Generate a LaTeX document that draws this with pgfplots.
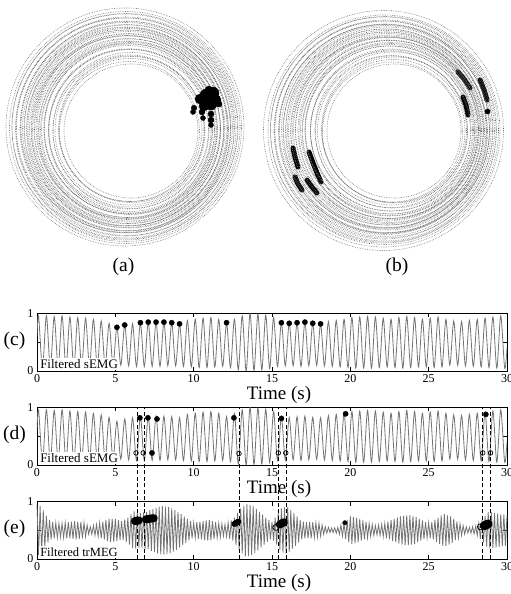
\documentclass[border=0pt]{standalone}
\usepackage{fontspec}
\setmainfont{Liberation Serif}
\usepackage{pgfplots}
\pgfplotsset{compat=1.18}
\usepackage{pgfplotstable}

\pgfplotstableread{
cx cy r
131 131 67
129.5 131.5 70
130.5 130 71.5
131.5 129.5 73
129.5 130.5 74.5
129 131 76
131 130.5 78
128.5 129 80
130 130.5 81
130.5 131 82
128 129.5 84
129.5 129 85
130 128.5 86
127.5 130.5 87
129.5 129.5 88
128 130 89
127 128.5 90
129.5 130 91
128 127.5 92
127.5 129 93
126.5 129.5 94
129 128.5 95
127.5 130 96
128 128.5 97
126 128 98
128.5 129 99
127 127.5 100
127.5 129.5 101
126 129 102
127.5 128 103
126.5 128.5 104
126 127.5 105
126.5 127 106
127 128.5 107
125.5 127 109
126 128 110
126.5 128 111
125 127 113
126 127.5 114
125.5 127.5 116
125 127 119
}\ringsA

\pgfplotstableread{
cx cy r
394 131 67
392.5 132 70
393.5 131 71.5
394.5 130 73
392 130.5 74.5
391.5 131.5 76
393 130 78
390.5 131 80
391.5 130 81
392.5 132 82
389.5 130 84
390 131 85
391 129.5 86
389 131.5 87
390.5 130.5 88
389.5 129.5 89
388 130 90
390 131.5 91
387.5 129 92
388.5 130.5 93
386.5 131 94
388.5 130 95
387 132 96
387.5 130.5 97
385.5 130 98
387.5 131 99
386 129 100
386.5 131.5 101
385 131 102
386.5 130 103
385.5 129.5 104
384.5 129.5 105
385 130.5 106
385.5 131 107
384 130 109
384.5 131 110
385 131 111
383.5 130 113
384.5 130.5 114
384 131 116
383.5 130.5 120
}\ringsB

\pgfplotstableread{
x y r
200 99 5
206 95 6
213 93 6
216 100 5
211 104 6
204 106 5
209 90 4
219 104 3
202 112 3
203 118 2.5
211 114 3
211 120 3
211 125 2.5
194 108 2.8
193 112 2.5
}\blobA

\pgfplotstableread{
t y
0.00 0.60
0.10 0.96
0.35 0.05
0.60 0.96
0.85 0.05
1.10 0.95
1.35 0.06
1.60 0.96
1.85 0.05
2.10 0.94
2.35 0.06
2.60 0.93
2.85 0.06
3.10 0.92
3.35 0.07
3.60 0.90
3.85 0.07
4.10 0.87
4.35 0.08
4.60 0.83
4.85 0.10
5.10 0.76
5.35 0.10
5.60 0.80
5.85 0.09
6.10 0.82
6.35 0.08
6.60 0.84
6.85 0.08
7.10 0.85
7.35 0.08
7.60 0.85
7.85 0.08
8.10 0.85
8.35 0.09
8.60 0.84
8.85 0.09
9.10 0.82
9.35 0.08
9.60 0.88
9.85 0.07
10.10 0.90
10.35 0.06
10.60 0.92
10.85 0.06
11.10 0.93
11.35 0.07
11.60 0.90
11.85 0.08
12.10 0.84
12.35 0.06
12.60 0.90
12.85 0.02
13.10 0.96
13.35 0.00
13.60 1.00
13.85 0.01
14.10 0.99
14.35 0.02
14.60 0.97
14.85 0.04
15.10 0.93
15.35 0.08
15.60 0.84
15.85 0.09
16.10 0.83
16.35 0.09
16.60 0.84
16.85 0.08
17.10 0.85
17.35 0.09
17.60 0.83
17.85 0.10
18.10 0.82
18.35 0.09
18.60 0.86
18.85 0.08
19.10 0.88
19.35 0.07
19.60 0.90
19.85 0.06
20.10 0.93
20.35 0.05
20.60 0.94
20.85 0.05
21.10 0.95
21.35 0.05
21.60 0.94
21.85 0.06
22.10 0.92
22.35 0.07
22.60 0.90
22.85 0.06
23.10 0.93
23.35 0.05
23.60 0.95
23.85 0.06
24.10 0.93
24.35 0.07
24.60 0.90
24.85 0.07
25.10 0.92
25.35 0.06
25.60 0.94
25.85 0.07
26.10 0.90
26.35 0.10
26.60 0.87
26.85 0.10
27.10 0.86
27.35 0.09
27.60 0.88
27.85 0.08
28.10 0.90
28.35 0.07
28.60 0.92
28.85 0.06
29.10 0.94
29.35 0.05
29.60 0.96
29.85 0.05
30.00 0.40
}\semg

\pgfplotstableread{
t y
0.0 .94
0.1 .07
0.2 .92
0.3 .11
0.4 .85
0.5 .20
0.6 .75
0.7 .29
0.8 .68
0.9 .34
1.0 .64
1.1 .36
1.2 .63
1.3 .37
1.4 .62
1.5 .38
1.6 .62
1.7 .37
1.8 .63
1.9 .36
2.0 .64
2.1 .36
2.2 .65
2.3 .35
2.4 .66
2.5 .34
2.6 .65
2.7 .35
2.8 .64
2.9 .36
3.0 .63
3.1 .39
3.2 .59
3.3 .43
3.4 .56
3.5 .43
3.6 .58
3.7 .41
3.8 .60
3.9 .39
4.0 .63
4.1 .36
4.2 .65
4.3 .34
4.4 .68
4.5 .31
4.6 .70
4.7 .30
4.8 .70
4.9 .30
5.0 .70
5.1 .31
5.2 .68
5.3 .33
5.4 .66
5.5 .33
5.6 .69
5.7 .30
5.8 .72
5.9 .25
6.0 .78
6.1 .19
6.2 .83
6.3 .18
6.4 .81
6.5 .20
6.6 .80
6.7 .19
6.8 .81
6.9 .18
7.0 .82
7.1 .17
7.2 .85
7.3 .14
7.4 .87
7.5 .12
7.6 .89
7.7 .10
7.8 .91
7.9 .08
8.0 .92
8.1 .08
8.2 .91
8.3 .09
8.4 .90
8.5 .10
8.6 .88
8.7 .13
8.8 .85
8.9 .16
9.0 .82
9.1 .20
9.2 .78
9.3 .24
9.4 .74
9.5 .28
9.6 .70
9.7 .32
9.8 .66
9.9 .36
10.0 .63
10.1 .37
10.2 .64
10.3 .35
10.4 .65
10.5 .34
10.6 .66
10.7 .33
10.8 .67
10.9 .32
11.0 .68
11.1 .33
11.2 .66
11.3 .35
11.4 .64
11.5 .37
11.6 .62
11.7 .38
11.8 .61
11.9 .40
12.0 .60
12.1 .39
12.2 .63
12.3 .35
12.4 .67
12.5 .32
12.6 .72
12.7 .24
12.8 .80
12.9 .16
13.0 .88
13.1 .10
13.2 .93
13.3 .05
13.4 .96
13.5 .05
13.6 .94
13.7 .07
13.8 .92
13.9 .10
14.0 .87
14.1 .15
14.2 .82
14.3 .20
14.4 .77
14.5 .25
14.6 .72
14.7 .30
14.8 .68
14.9 .34
15.0 .65
15.1 .32
15.2 .72
15.3 .25
15.4 .80
15.5 .16
15.6 .88
15.7 .11
15.8 .90
15.9 .10
16.0 .90
16.1 .12
16.2 .85
16.3 .18
16.4 .80
16.5 .23
16.6 .74
16.7 .29
16.8 .68
16.9 .34
17.0 .65
17.1 .36
17.2 .64
17.3 .36
17.4 .64
17.5 .36
17.6 .64
17.7 .37
17.8 .63
17.9 .38
18.0 .62
18.1 .40
18.2 .59
18.3 .43
18.4 .56
18.5 .45
18.6 .55
18.7 .46
18.8 .54
18.9 .46
19.0 .54
19.1 .45
19.2 .55
19.3 .43
19.4 .59
19.5 .40
19.6 .62
19.7 .35
19.8 .68
19.9 .29
20.0 .74
20.1 .26
20.2 .73
20.3 .27
20.4 .72
20.5 .29
20.6 .70
20.7 .32
20.8 .67
20.9 .34
21.0 .65
21.1 .37
21.2 .62
21.3 .39
21.4 .60
21.5 .41
21.6 .58
21.7 .42
21.8 .59
21.9 .41
22.0 .60
22.1 .39
22.2 .62
22.3 .36
22.4 .65
22.5 .34
22.6 .68
22.7 .31
22.8 .70
22.9 .29
23.0 .72
23.1 .27
23.2 .74
23.3 .25
23.4 .75
23.5 .24
23.6 .76
23.7 .24
23.8 .76
23.9 .25
24.0 .75
24.1 .26
24.2 .73
24.3 .29
24.4 .70
24.5 .32
24.6 .67
24.7 .35
24.8 .64
24.9 .37
25.0 .63
25.1 .36
25.2 .64
25.3 .34
25.4 .68
25.5 .30
25.6 .72
25.7 .26
25.8 .76
25.9 .23
26.0 .78
26.1 .23
26.2 .76
26.3 .25
26.4 .74
26.5 .28
26.6 .70
26.7 .33
26.8 .65
26.9 .37
27.0 .61
27.1 .41
27.2 .58
27.3 .43
27.4 .56
27.5 .45
27.6 .55
27.7 .45
27.8 .56
27.9 .44
28.0 .57
28.1 .41
28.2 .62
28.3 .35
28.4 .68
28.5 .29
28.6 .75
28.7 .22
28.8 .82
28.9 .18
29.0 .81
29.1 .19
29.2 .80
29.3 .20
29.4 .79
29.5 .21
29.6 .78
29.7 .22
29.8 .77
29.9 .23
30.0 .76
}\trmeg

\tikzset{
  sig/.style={black!55, line width=0.8pt},
  lbl/.style={fill=white, inner sep=1.5pt, anchor=south west},
  plab/.style={font=\fontsize{19.5}{19.5}\selectfont},
  ringstyle/.style={line width=0.6pt, dash pattern=on 0.6pt off 1.1pt},
}
\pgfplotsset{
  panel/.style={
    scale only axis, width=470pt, height=57.5pt,
    anchor=south west,
    xmin=0, xmax=30, ymin=0, ymax=1,
    xtick={0,5,...,30}, ytick={0,0.5,1}, yticklabels={0,,1},
    tick align=inside, major tick length=4pt,
    axis line style={line width=0.8pt},
    every tick/.style={black, line width=0.6pt},
    /pgf/number format/assume math mode=true,
    tick label style={font=\fontsize{12}{12}\selectfont},
    xlabel={Time (s)},
    xlabel style={font=\fontsize{19}{19}\selectfont, at={(axis description cs:0.515,-0.42)}, anchor=center},
    clip mode=individual,
  },
}

\begin{document}
\begin{tikzpicture}
\useasboundingbox (0,0) rectangle (511pt,594pt);

% ---- (a) and (b) phase portraits
\begin{axis}[at={(0pt,594pt)}, anchor=north west, x=1pt, y=1pt, y dir=reverse,
  xmin=0, xmax=511, ymin=0, ymax=285, hide axis, clip=false]
\addplot[scatter, only marks, mark=o, scatter/use mapped color={draw=black!58},
  visualization depends on={\thisrow{r}\as\rr},
  scatter/@pre marker code/.append style={/tikz/mark size=\rr pt},
  mark options={ringstyle}]
  table[x=cx, y=cy]{\ringsA};
\addplot[scatter, only marks, mark=o, scatter/use mapped color={draw=black!58},
  visualization depends on={\thisrow{r}\as\rr},
  scatter/@pre marker code/.append style={/tikz/mark size=\rr pt},
  mark options={ringstyle}]
  table[x=cx, y=cy]{\ringsB};
\addplot[scatter, only marks, mark=*, scatter/use mapped color={draw=black, fill=black},
  visualization depends on={\thisrow{r}\as\rr},
  scatter/@pre marker code/.append style={/tikz/mark size=\rr pt}]
  table[x=x, y=y]{\blobA};
\addplot[black, line width=5pt, line cap=round] coordinates {(458,72)(464,79)(470,88)};
\addplot[black, line width=5pt, line cap=round] coordinates {(463,97)(466,105)(468,115)};
\addplot[black, line width=5pt, line cap=round] coordinates {(480,80)(484,90)(487,100)};
\addplot[only marks, mark=*, mark size=2.6pt, black] coordinates {(487.5,111.5)};
\addplot[black, line width=5pt, line cap=round] coordinates {(293,148)(295,157)(298,167)};
\addplot[black, line width=5pt, line cap=round] coordinates {(309,152)(313,163)(317,173)(321,182)};
\addplot[black, line width=5pt, line cap=round] coordinates {(295,177)(298,184)(302,190)};
\addplot[black, line width=5pt, line cap=round] coordinates {(307,180)(312,187)(317,193)};
\node[plab] at (axis cs:123.5,267) {(a)};
\node[plab] at (axis cs:397,267) {(b)};
\end{axis}

% ---- (c)
\begin{axis}[panel, at={(37pt,223pt)}]
\addplot[sig, smooth] table[x=t, y=y]{\semg};
\addplot[only marks, mark=*, mark size=2.6pt, black] coordinates {
(5.1,0.76) (5.6,0.80) (6.6,0.84) (7.1,0.85) (7.6,0.85) (8.1,0.85) (8.6,0.84) (9.1,0.82)
(12.1,0.84) (15.6,0.84) (16.1,0.83) (16.6,0.84) (17.1,0.85) (17.6,0.83) (18.1,0.82)};
\node[lbl, font=\fontsize{13}{13}\selectfont] at (axis cs:0.1,0.02) {Filtered sEMG};
\node[plab] at (rel axis cs:-0.048,0.52) {(c)};
\end{axis}

% ---- (d)
\begin{axis}[panel, at={(37pt,129pt)}]
\addplot[sig, smooth] table[x=t, y=y]{\semg};
\addplot[only marks, mark=*, mark size=2.6pt, black] coordinates {
(6.57,0.82) (7.08,0.82) (7.66,0.80) (12.57,0.82) (15.6,0.81) (19.7,0.89) (28.65,0.88) (7.34,0.21)};
\addplot[only marks, mark=o, mark size=2.3pt, black, line width=0.7pt, mark options={fill=white}] coordinates {
(6.32,0.21) (6.78,0.21) (12.89,0.20) (15.4,0.21) (15.88,0.21) (28.45,0.21) (28.95,0.21)};
\node[lbl, font=\fontsize{13}{13}\selectfont] at (axis cs:0.1,0.02) {Filtered sEMG};
\node[plab] at (rel axis cs:-0.048,0.52) {(d)};
\end{axis}

% ---- (e)
\begin{axis}[panel, at={(37pt,35pt)}, clip=false]
\addplot[sig] table[x=t, y=y]{\trmeg};
\addplot[black, line width=8pt, line cap=round] coordinates {(6.25,0.66)(6.5,0.67)};
\addplot[black, line width=8pt, line cap=round] coordinates {(6.95,0.69)(7.45,0.71)};
\addplot[black, line width=6pt, line cap=round] coordinates {(12.6,0.61)(12.85,0.65)};
\addplot[black, line width=8pt, line cap=round] coordinates {(15.5,0.60)(15.75,0.64)};
\addplot[only marks, mark=*, mark size=2.2pt, black] coordinates {(19.65,0.63)};
\addplot[black, line width=9pt, line cap=round] coordinates {(28.55,0.58)(28.8,0.61)};
\addplot[only marks, mark=o, mark size=3pt, black, line width=0.7pt, mark options={fill=black!40}] coordinates {(15.25,0.55) (28.3,0.56)};
\addplot[black, line width=0.8pt, dash pattern=on 4pt off 2.5pt] coordinates {(6.38,0)(6.38,2.635)};
\addplot[black, line width=0.8pt, dash pattern=on 4pt off 2.5pt] coordinates {(6.83,0)(6.83,2.635)};
\addplot[black, line width=0.8pt, dash pattern=on 4pt off 2.5pt] coordinates {(12.9,0)(12.9,2.635)};
\addplot[black, line width=0.8pt, dash pattern=on 4pt off 2.5pt] coordinates {(15.42,0)(15.42,2.635)};
\addplot[black, line width=0.8pt, dash pattern=on 4pt off 2.5pt] coordinates {(15.9,0)(15.9,2.635)};
\addplot[black, line width=0.8pt, dash pattern=on 4pt off 2.5pt] coordinates {(28.44,0)(28.44,2.635)};
\addplot[black, line width=0.8pt, dash pattern=on 4pt off 2.5pt] coordinates {(28.95,0)(28.95,2.635)};
\node[lbl, font=\fontsize{12.5}{12.5}\selectfont] at (axis cs:0.1,0.02) {Filtered trMEG};
\node[plab] at (rel axis cs:-0.048,0.52) {(e)};
\end{axis}
\end{tikzpicture}
\end{document}
